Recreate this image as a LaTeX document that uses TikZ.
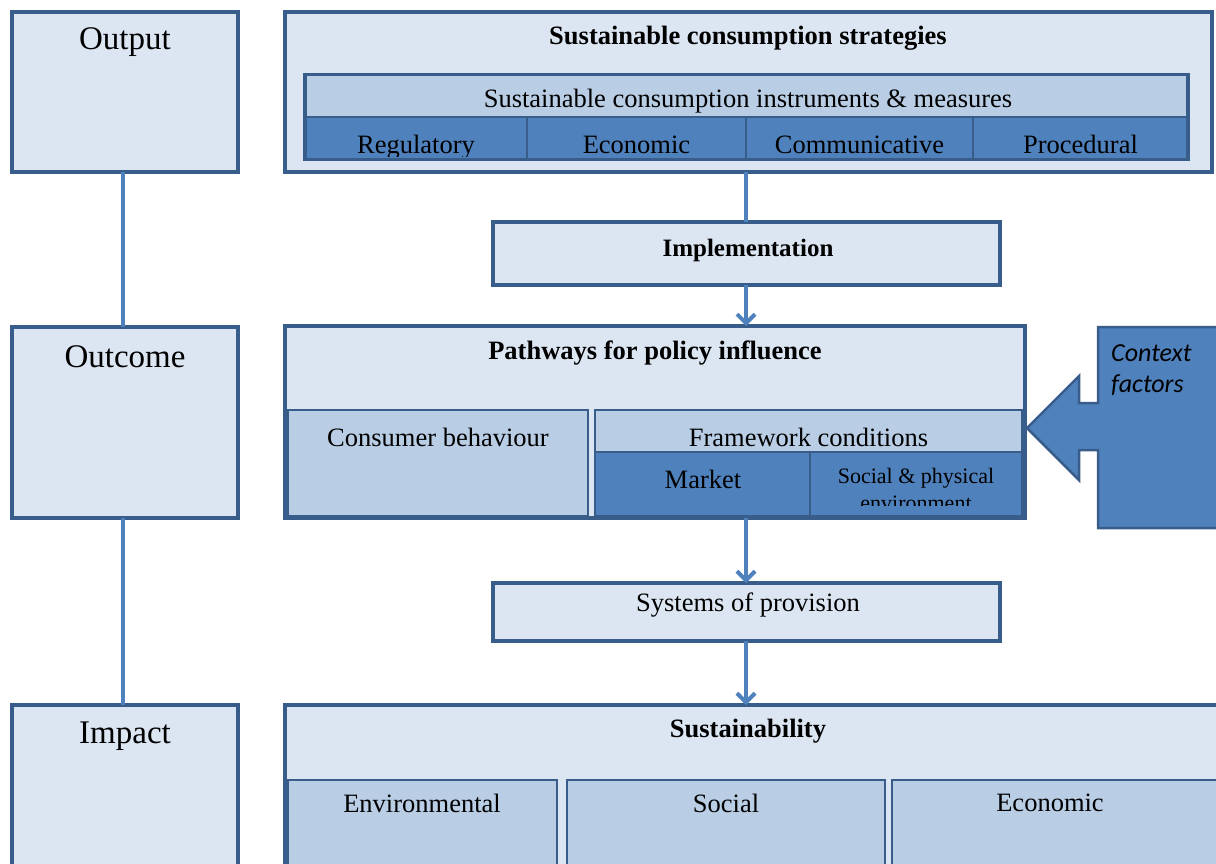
\documentclass[tikz,border=0pt]{standalone}
\usepackage{fontspec}
\setmainfont{Liberation Serif}
\newfontfamily\ctxfont{Carlito}
\usetikzlibrary{arrows.meta}
\definecolor{lightf}{HTML}{DCE6F2}
\definecolor{midf}{HTML}{B9CDE5}
\definecolor{darkf}{HTML}{4F81BD}
\definecolor{edgec}{HTML}{385D8A}
\definecolor{conn}{HTML}{4F81BD}
\begin{document}
\begin{tikzpicture}[x=1pt,y=-1pt,
 bx/.style={draw=edgec, line width=3.5pt, rectangle, inner sep=0pt, outer sep=0pt, anchor=center},
 lt/.style={bx, fill=lightf},
 md/.style={bx, fill=midf, line width=2.5pt},
 dk/.style={bx, fill=darkf, line width=2.5pt},
 lbl/.style={inner sep=0pt, font=\fontsize{26.5}{30}\selectfont},
 blbl/.style={inner sep=0pt, font=\fontsize{26.5}{30}\selectfont\bfseries},
 big/.style={inner sep=0pt, font=\fontsize{33}{38}\selectfont},
 link/.style={draw=conn, line width=4pt},
 arr/.style={link, -{Straight Barb[length=9pt,width=18pt]}}]
\useasboundingbox (0,0) rectangle (1216,863);

% left column
\node[lt, minimum width=226pt, minimum height=160pt] (out) at (125,92) {};
\node[lt, minimum width=226pt, minimum height=191pt] (outc) at (125,422.5) {};
\node[lt, minimum width=226pt, minimum height=170pt] (imp) at (125,790) {};
\node[big] (outT) at (125,42) {Output};
\node[big] (outcT) at (125,357) {Outcome};
\node[big] (impT) at (125,736) {Impact};
\draw[link] (out.south -| 123,0) -- (outc.north -| 123,0);
\draw[link] (outc.south -| 123,0) -- (imp.north -| 123,0);

% strategies
\node[lt, minimum width=927pt, minimum height=160pt] (strat) at (748.5,92) {};
\node[blbl] (stratT) at (748,38) {Sustainable consumption strategies};
\node[md, line width=3.5pt, minimum width=883pt, minimum height=85pt] (instr) at (746.5,117) {};
\node[md, minimum width=883pt, minimum height=42pt] (instrH) at (746.5,96) {};
\node[lbl] (instrT) at (748,101) {Sustainable consumption instruments \& measures};
\node[dk, minimum width=222pt, minimum height=43pt] (reg) at (416,138.5) {};
\node[dk, minimum width=219pt, minimum height=43pt] (eco) at (636.5,138.5) {};
\node[dk, minimum width=227pt, minimum height=43pt] (com) at (859.5,138.5) {};
\node[dk, minimum width=215pt, minimum height=43pt] (pro) at (1080.5,138.5) {};
\draw[draw=edgec, line width=3.5pt] (instr.north west) rectangle (instr.south east);
\begin{scope}
\clip (305,118) rectangle (1188,156);
\node[lbl, anchor=base] (regT) at (416,153) {Regulatory};
\node[lbl, anchor=base] (ecoT) at (636.5,153) {Economic};
\node[lbl, anchor=base] (comT) at (859.5,153) {Communicative};
\node[lbl, anchor=base] (proT) at (1080.5,153) {Procedural};
\end{scope}

% implementation
\node[lt, minimum width=507pt, minimum height=63pt] (impl) at (746.5,253.5) {};
\node[blbl, font=\fontsize{25}{28}\selectfont\bfseries] (implT) at (748,250) {Implementation};

% pathways
\node[lt, minimum width=740pt, minimum height=192pt] (path) at (655,422) {};
\node[blbl] (pathT) at (655,353) {Pathways for policy influence};
\node[md, minimum width=300pt, minimum height=106pt] (cons) at (438,463) {};
\node[lbl] (consT) at (438,437) {Consumer behaviour};
\node[md, minimum width=427pt, minimum height=42pt] (fw) at (808.5,431) {};
\node[lbl] (fwT) at (808.5,437) {Framework conditions};
\node[dk, minimum width=215pt, minimum height=64pt] (mkt) at (702.5,484) {};
\node[lbl] (mktT) at (703,479) {Market};
\node[dk, minimum width=212pt, minimum height=64pt] (soc) at (916,484) {};
\begin{scope}
\clip (811,453) rectangle (1021,505);
\node[inner sep=0pt, font=\fontsize{22}{25}\selectfont, anchor=base] (socT) at (916,483) {Social \& physical};
\node[inner sep=0pt, font=\fontsize{22}{25}\selectfont, anchor=base] (socT2) at (916,510) {environment};
\end{scope}

% context factors
\path[fill=darkf, draw=edgec, line width=2.5pt]
 (1098,327) -- (1230,327) -- (1230,528) -- (1098,528) -- (1098,450) -- (1079,450)
 -- (1079,480) -- (1027,428) -- (1079,376) -- (1079,403) -- (1098,403) -- cycle;
\node[inner sep=0pt, align=left, anchor=north west, font=\fontsize{26}{31}\selectfont\ctxfont\itshape] (ctx) at (1111,344) {Context\\factors};

% systems
\node[lt, minimum width=507pt, minimum height=58pt] (sys) at (746.5,612) {};
\node[lbl] (sysT) at (748,605) {Systems of provision};

% sustainability
\node[lt, minimum width=940pt, minimum height=175pt] (sus) at (755,792.5) {};
\node[blbl] (susT) at (748,731) {Sustainability};
\node[md, minimum width=269pt, minimum height=100pt] (env) at (422.5,830) {};
\node[md, minimum width=318pt, minimum height=100pt] (soc2) at (726,830) {};
\node[md, minimum width=333pt, minimum height=100pt] (ecn) at (1058.5,830) {};
\node[lbl] (envT) at (422,803) {Environmental};
\node[lbl] (soc2T) at (726,803) {Social};
\node[lbl] (ecnT) at (1050,803) {Economic};

% connectors
\draw[link] (strat.south -| 746,0) -- (impl.north -| 746,0);
\draw[arr] (impl.south -| 746,0) -- (path.north -| 746,0);
\draw[arr] (path.south -| 746,0) -- (sys.north -| 746,0);
\draw[arr] (sys.south -| 746,0) -- (sus.north -| 746,0);
\end{tikzpicture}
\end{document}
